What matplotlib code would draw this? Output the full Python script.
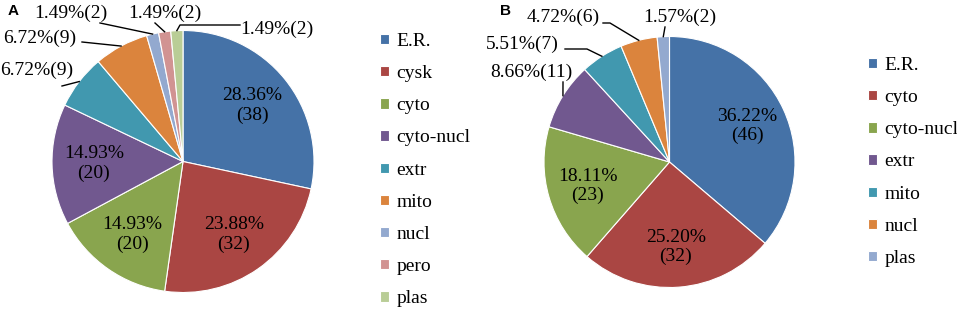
import numpy as np
import matplotlib
matplotlib.use("Agg")
import matplotlib.pyplot as plt

plt.rcParams['font.family'] = ['Liberation Serif', 'DejaVu Serif']

# panel A data
labels_a = ['E.R.', 'cysk', 'cyto', 'cyto-nucl', 'extr', 'mito', 'nucl', 'pero', 'plas']
counts_a = [38, 32, 20, 20, 9, 9, 2, 2, 2]
pcts_a = ['28.36%', '23.88%', '14.93%', '14.93%', '6.72%', '6.72%', '1.49%', '1.49%', '1.49%']

# panel B data
labels_b = ['E.R.', 'cyto', 'cyto-nucl', 'extr', 'mito', 'nucl', 'plas']
counts_b = [46, 32, 23, 11, 7, 6, 2]
pcts_b = ['36.22%', '25.20%', '18.11%', '8.66%', '5.51%', '4.72%', '1.57%']

colors = ['#4572A7', '#AA4643', '#89A54E', '#71588F', '#4198AF',
          '#DB843D', '#93A9CF', '#D19392', '#B9CD96']

W, H = 957, 310
fig = plt.figure(figsize=(W / 100, H / 100), dpi=100)

FS = 14


def draw(cx, cy, r, counts, pcts, labels, n_inside, outside, leg_xy):
    ax = fig.add_axes([(cx - r) / W, (H - cy - r) / H, 2 * r / W, 2 * r / H])
    wedges, _ = ax.pie(counts, colors=colors[:len(counts)], startangle=90,
                       counterclock=False, radius=1,
                       wedgeprops=dict(edgecolor='white', linewidth=0.8))
    ax.set_xlim(-1, 1)
    ax.set_ylim(-1, 1)
    ax.set_axis_off()

    def p2d(x, y):
        return ((x - cx) / r, (cy - y) / r)

    for i, w in enumerate(wedges):
        mid = np.deg2rad((w.theta1 + w.theta2) / 2)
        txt = '%s(%d)' % (pcts[i], counts[i])
        if i < n_inside:
            d = 0.68
            ax.text(d * np.cos(mid), d * np.sin(mid), '%s\n(%d)' % (pcts[i], counts[i]),
                    ha='center', va='center', fontsize=FS, linespacing=1.15)
        else:
            tpos, path = outside[i]
            tx, ty = p2d(*tpos)
            ax.text(tx, ty, txt, ha='center', va='center', fontsize=FS, clip_on=False)
            pts = [p2d(*p) for p in path] + [(np.cos(mid), np.sin(mid))]
            xs, ys = zip(*pts)
            ax.plot(xs, ys, color='black', lw=1.0, clip_on=False)

    lx, ly = leg_xy
    ax.legend(wedges, labels, loc='upper left', frameon=False,
              bbox_to_anchor=(lx / W, 1 - ly / H), bbox_transform=fig.transFigure,
              fontsize=FS, handlelength=0.45, handleheight=0.45,
              handletextpad=0.4, labelspacing=0.78, borderpad=0, borderaxespad=0)
    return ax


outside_a = {
    4: ((37, 70), [(62, 86)]),
    5: ((40, 38), [(82, 42)]),
    6: ((71, 13), [(100, 23)]),
    7: ((165, 13), [(155, 23)]),
    8: ((277, 29), [(240, 25), (180, 25)]),
}
outside_b = {
    3: ((531, 72), [(563, 82)]),
    4: ((522, 44), [(565, 49), (587, 49)]),
    5: ((563, 17), [(603, 23), (610, 23)]),
    6: ((680, 17), [(665, 27)]),
}

draw(183, 161.5, 131, counts_a, pcts_a, labels_a, 4, outside_a, (380, 33))
draw(669.5, 162, 125.5, counts_b, pcts_b, labels_b, 3, outside_b, (868, 57))

fig.text(8 / W, 1 - 4 / H, 'A', fontsize=11, fontweight='bold',
         family='Liberation Sans', va='top', ha='left')
fig.text(500 / W, 1 - 4 / H, 'B', fontsize=11, fontweight='bold',
         family='Liberation Sans', va='top', ha='left')

fig.savefig('out.png', dpi=100)
